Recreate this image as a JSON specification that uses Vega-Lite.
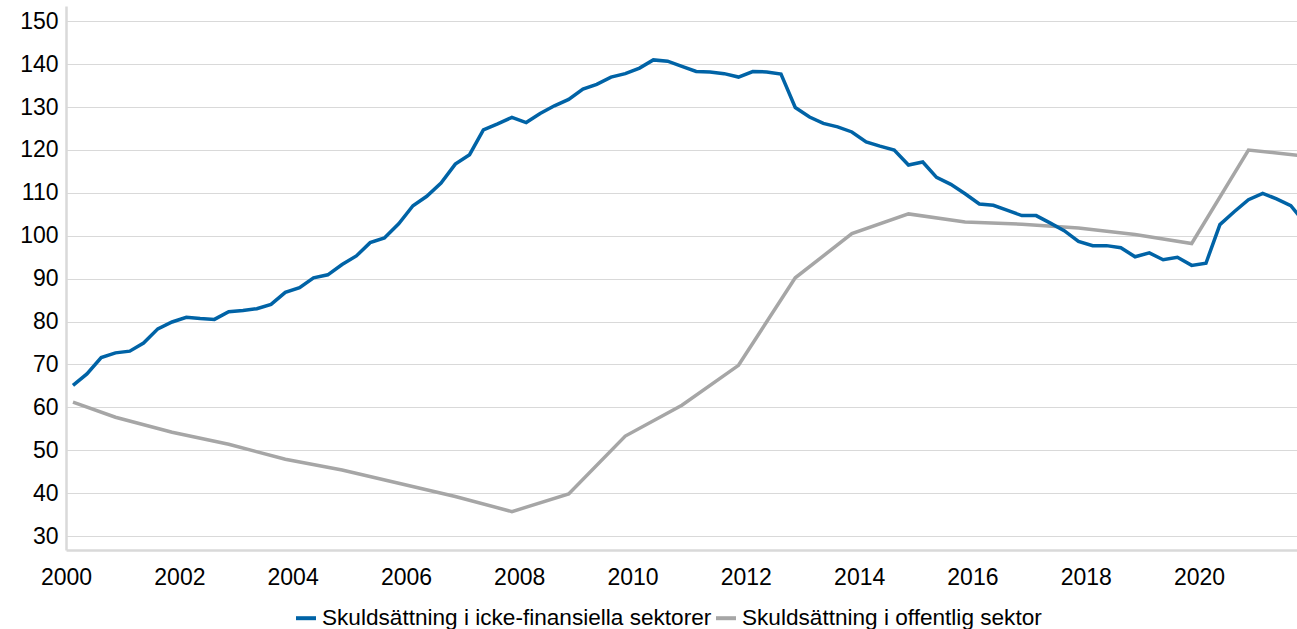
{
  "$schema": "https://vega.github.io/schema/vega-lite/v6.json",
  "width": 1231,
  "height": 544,
  "autosize": {"type": "none"},
  "padding": {"left": 66, "top": 6, "right": 0, "bottom": 79},
  "background": "white",
  "config": {
    "view": {"stroke": null},
    "font": "Liberation Sans",
    "axis": {"labelFont": "Liberation Sans", "labelColor": "#000000", "labelFontSize": 23}
  },
  "datasets": {
    "blue": [
      {"d":"2000-02-15","v":65.1},{"d":"2000-05-15","v":67.8},{"d":"2000-08-15","v":71.6},{"d":"2000-11-15","v":72.7},
      {"d":"2001-02-15","v":73.1},{"d":"2001-05-15","v":75.0},{"d":"2001-08-15","v":78.3},{"d":"2001-11-15","v":79.9},
      {"d":"2002-02-15","v":81.0},{"d":"2002-05-15","v":80.7},{"d":"2002-08-15","v":80.5},{"d":"2002-11-15","v":82.3},
      {"d":"2003-02-15","v":82.6},{"d":"2003-05-15","v":83.0},{"d":"2003-08-15","v":84.0},{"d":"2003-11-15","v":86.8},
      {"d":"2004-02-15","v":87.9},{"d":"2004-05-15","v":90.2},{"d":"2004-08-15","v":90.9},{"d":"2004-11-15","v":93.3},
      {"d":"2005-02-15","v":95.3},{"d":"2005-05-15","v":98.4},{"d":"2005-08-15","v":99.5},{"d":"2005-11-15","v":102.8},
      {"d":"2006-02-15","v":107.0},{"d":"2006-05-15","v":109.2},{"d":"2006-08-15","v":112.3},{"d":"2006-11-15","v":116.7},
      {"d":"2007-02-15","v":118.9},{"d":"2007-05-15","v":124.7},{"d":"2007-08-15","v":126.1},{"d":"2007-11-15","v":127.6},
      {"d":"2008-02-15","v":126.4},{"d":"2008-05-15","v":128.5},{"d":"2008-08-15","v":130.3},{"d":"2008-11-15","v":131.8},
      {"d":"2009-02-15","v":134.2},{"d":"2009-05-15","v":135.3},{"d":"2009-08-15","v":137.0},{"d":"2009-11-15","v":137.8},
      {"d":"2010-02-15","v":139.1},{"d":"2010-05-15","v":141.0},{"d":"2010-08-15","v":140.7},{"d":"2010-11-15","v":139.5},
      {"d":"2011-02-15","v":138.3},{"d":"2011-05-15","v":138.2},{"d":"2011-08-15","v":137.8},{"d":"2011-11-15","v":137.0},
      {"d":"2012-02-15","v":138.3},{"d":"2012-05-15","v":138.2},{"d":"2012-08-15","v":137.7},{"d":"2012-11-15","v":129.9},
      {"d":"2013-02-15","v":127.7},{"d":"2013-05-15","v":126.2},{"d":"2013-08-15","v":125.4},{"d":"2013-11-15","v":124.2},
      {"d":"2014-02-15","v":121.9},{"d":"2014-05-15","v":120.9},{"d":"2014-08-15","v":120.0},{"d":"2014-11-15","v":116.5},
      {"d":"2015-02-15","v":117.2},{"d":"2015-05-15","v":113.6},{"d":"2015-08-15","v":112.0},{"d":"2015-11-15","v":109.8},
      {"d":"2016-02-15","v":107.4},{"d":"2016-05-15","v":107.1},{"d":"2016-08-15","v":105.9},{"d":"2016-11-15","v":104.7},
      {"d":"2017-02-15","v":104.7},{"d":"2017-05-15","v":103.0},{"d":"2017-08-15","v":101.2},{"d":"2017-11-15","v":98.7},
      {"d":"2018-02-15","v":97.7},{"d":"2018-05-15","v":97.7},{"d":"2018-08-15","v":97.2},{"d":"2018-11-15","v":95.1},
      {"d":"2019-02-15","v":96.0},{"d":"2019-05-15","v":94.4},{"d":"2019-08-15","v":95.0},{"d":"2019-11-15","v":93.1},
      {"d":"2020-02-15","v":93.6},{"d":"2020-05-15","v":102.6},{"d":"2020-08-15","v":105.6},{"d":"2020-11-15","v":108.4},
      {"d":"2021-02-15","v":109.9},{"d":"2021-05-15","v":108.6},{"d":"2021-08-15","v":107.0},{"d":"2021-11-15","v":103.0}
    ],
    "gray": [
      {"d":"2000-02-15","v":61.2},{"d":"2000-11-15","v":57.7},{"d":"2001-11-15","v":54.2},{"d":"2002-11-15","v":51.4},
      {"d":"2003-11-15","v":47.9},{"d":"2004-11-15","v":45.4},{"d":"2005-11-15","v":42.3},{"d":"2006-11-15","v":39.2},
      {"d":"2007-11-15","v":35.7},{"d":"2008-11-15","v":39.8},{"d":"2009-11-15","v":53.3},{"d":"2010-11-15","v":60.5},
      {"d":"2011-11-15","v":69.8},{"d":"2012-11-15","v":90.2},{"d":"2013-11-15","v":100.5},{"d":"2014-11-15","v":105.1},
      {"d":"2015-11-15","v":103.2},{"d":"2016-11-15","v":102.7},{"d":"2017-11-15","v":101.8},{"d":"2018-11-15","v":100.3},
      {"d":"2019-11-15","v":98.2},{"d":"2020-11-15","v":120.0},{"d":"2021-11-15","v":118.6}
    ]
  },
  "encoding": {
    "x": {
      "field": "d", "type": "temporal",
      "scale": {"domain": [{"year": 2000, "month": 1, "date": 1}, {"year": 2021, "month": 9, "date": 24}]},
      "axis": {
        "title": null, "format": "%Y", "tickCount": {"interval": "year", "step": 2},
        "ticks": false, "grid": false, "domainColor": "#d9d9d9", "domainWidth": 2.5,
        "labelPadding": 16, "labelFontSize": 23, "labelFlush": false
      }
    },
    "y": {
      "field": "v", "type": "quantitative",
      "scale": {"domain": [26.74, 153.57], "nice": false, "zero": false},
      "axis": {
        "title": null, "values": [30, 40, 50, 60, 70, 80, 90, 100, 110, 120, 130, 140, 150],
        "ticks": false, "grid": true, "gridColor": "#d9d9d9", "gridWidth": 1,
        "domainColor": "#d9d9d9", "domainWidth": 2.5, "labelPadding": 8, "labelFontSize": 23
      }
    }
  },
  "layer": [
    {
      "data": {"name": "gray"},
      "mark": {"type": "line", "strokeWidth": 3.5, "clip": true},
      "encoding": {
        "color": {"datum": "Skuldsättning i offentlig sektor"}
      }
    },
    {
      "data": {"name": "blue"},
      "mark": {"type": "line", "strokeWidth": 3.5, "clip": true},
      "encoding": {
        "color": {
          "datum": "Skuldsättning i icke-finansiella sektorer",
          "scale": {
            "domain": ["Skuldsättning i icke-finansiella sektorer", "Skuldsättning i offentlig sektor"],
            "range": ["#0063A6", "#A6A6A6"]
          },
          "legend": {
            "title": null, "orient": "none", "legendX": 228, "legendY": 600, "direction": "horizontal",
            "symbolType": "stroke", "symbolSize": 400, "symbolStrokeWidth": 4,
            "labelFontSize": 22.6, "labelColor": "#000000", "labelOffset": 4, "columnPadding": -4,
            "labelLimit": 600
          }
        }
      }
    }
  ]
}
